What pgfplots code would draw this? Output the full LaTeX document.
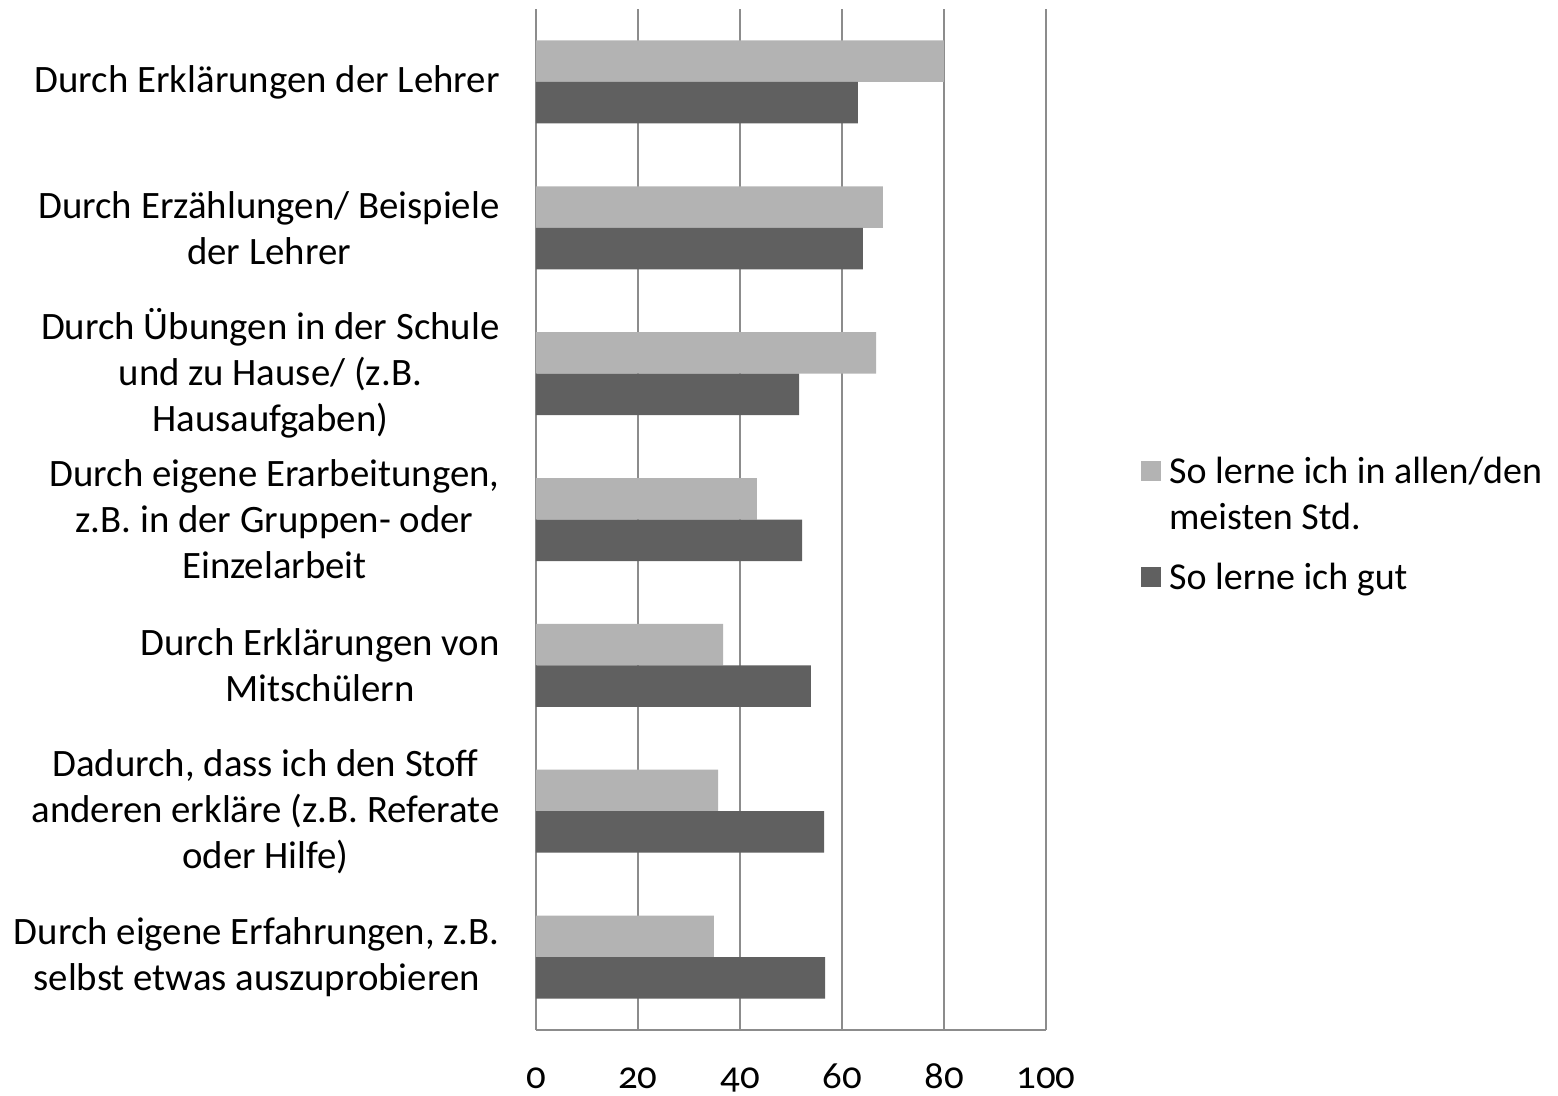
\documentclass[border=0pt]{standalone}
\usepackage{pgfplots}
\pgfplotsset{compat=1.18}
\usepackage{fontspec}
\setmainfont{Carlito}[Numbers=OldStyle]
\definecolor{lightbar}{HTML}{B3B3B3}
\definecolor{darkbar}{HTML}{606060}
\definecolor{gridc}{HTML}{8C8C8C}
\newcommand{\lblfont}{\fontsize{19.4}{23}\selectfont}
\pgfplotsset{
  toplegend/.style={legend image code/.code={\fill[##1] (0pt,7pt) rectangle (10pt,17pt);}},
  sqlegend/.style={legend image code/.code={\fill[##1] (0pt,-5pt) rectangle (10pt,5pt);}},
}
\begin{document}
\begin{tikzpicture}
\begin{axis}[
  at={(0,0)}, anchor=south west,
  scale only axis,
  width=255pt, height=510.5pt,
  xmin=0, xmax=100,
  ymin=-0.5, ymax=6.5,
  y dir=reverse,
  xbar,
  bar width=20.75pt,
  xtick={0,20,40,60,80,100},
  ytick={0,1,2,3,4,5,6},
  yticklabels={
    {Durch Erklärungen der Lehrer},
    {Durch Erzählungen/ Beispiele\\der Lehrer},
    {Durch Übungen in der Schule\\und zu Hause/ (z.B.\\Hausaufgaben)},
    {Durch eigene Erarbeitungen,\\z.B. in der Gruppen- oder\\Einzelarbeit},
    {Durch Erklärungen von\\Mitschülern},
    {Dadurch, dass ich den Stoff\\anderen erkläre (z.B. Referate\\oder Hilfe)},
    {Durch eigene Erfahrungen, z.B.\\selbst etwas auszuprobieren}},
  /pgf/number format/assume math mode=true,
  axis x line*=bottom,
  axis y line*=left,
  axis line style={gridc, line width=1pt},
  xmajorgrids,
  major grid style={gridc, line width=1pt},
  major tick length=0pt,
  tick style={draw=none},
  xticklabel style={font=\lblfont, anchor=base, inner sep=0pt, yshift=-29pt},
  yticklabel style={font=\lblfont, anchor=east, inner sep=0pt, xshift=-18pt, align=center},
  legend style={
    at={(1.174,0.495)}, anchor=west,
    draw=none, fill=none,
    font=\fontsize{19}{23}\selectfont,
    row sep=15pt,
    nodes={inner sep=0pt, align=left},
    /tikz/every odd column/.append style={column sep=4pt},
  },
  legend cell align=left,
]
\addplot[fill=lightbar, draw=none, bar shift=10.375pt, toplegend] coordinates {
  (80.0,0) (68.0,1) (66.7,2) (43.3,3) (36.7,4) (35.7,5) (34.9,6)};
\addlegendentry{So lerne ich in allen/den\\meisten Std.}
\addplot[fill=darkbar, draw=none, bar shift=-10.375pt, sqlegend] coordinates {
  (63.1,0) (64.1,1) (51.6,2) (52.2,3) (53.9,4) (56.5,5) (56.7,6)};
\addlegendentry{So lerne ich gut}
\end{axis}
\pgfresetboundingbox
\useasboundingbox (-268pt,-33pt) rectangle (511pt,515pt);
\end{tikzpicture}
\end{document}
